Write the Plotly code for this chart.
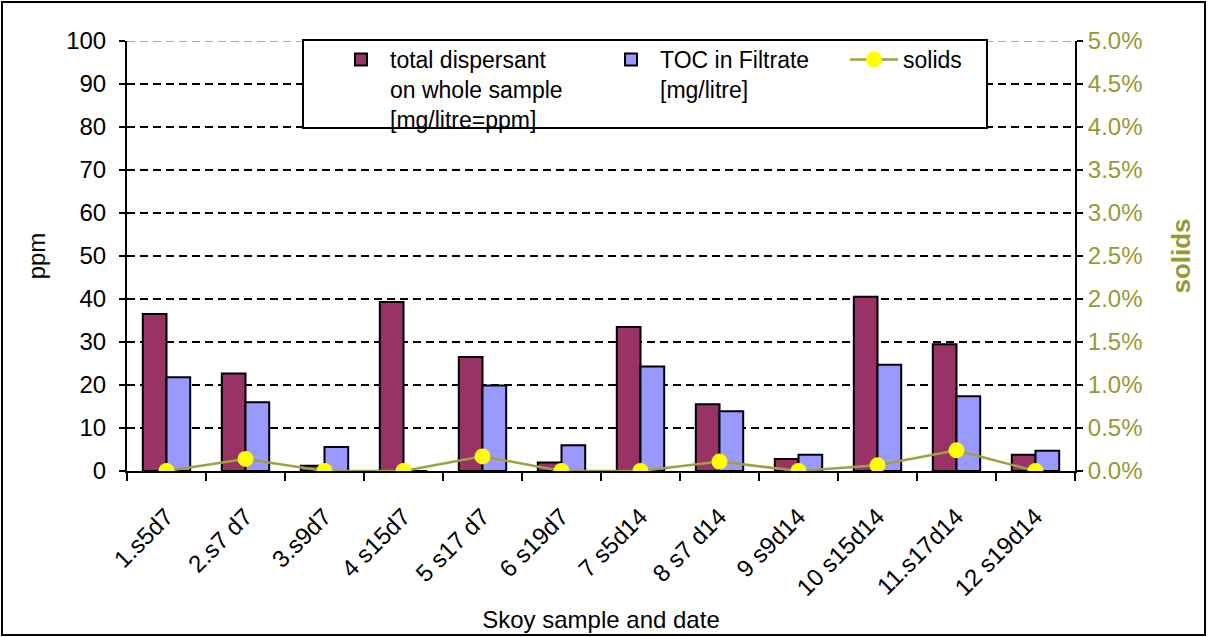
import plotly.graph_objects as go

categories = ["1.s5d7", "2.s7 d7", "3.s9d7", "4 s15d7", "5 s17 d7", "6 s19d7",
              "7 s5d14", "8 s7 d14", "9 s9d14", "10 s15d14", "11.s17d14", "12 s19d14"]
total_dispersant = [36.5, 22.7, 1.2, 39.3, 26.5, 2.0, 33.5, 15.5, 2.8, 40.5, 29.5, 3.8]
toc_filtrate = [21.8, 16.0, 5.6, 0, 19.9, 6.0, 24.3, 13.9, 3.8, 24.7, 17.4, 4.7]
solids = [0.0, 0.0014, 0.0, 0.0, 0.0017, 0.0, 0.0, 0.0011, 0.0, 0.00066, 0.0024, 0.0]

FONT = "Liberation Sans, Arial, sans-serif"
OLIVE = "#999933"

fig = go.Figure()
fig.add_trace(go.Bar(
    x=categories, y=total_dispersant,
    name="total dispersant<br>on whole sample<br>[mg/litre=ppm]",
    marker=dict(color="#993366", line=dict(color="black", width=2)),
    legend="legend",
))
fig.add_trace(go.Bar(
    x=categories, y=toc_filtrate,
    name="TOC in Filtrate<br>[mg/litre]",
    marker=dict(color="#9999FF", line=dict(color="black", width=2)),
    legend="legend2",
))
fig.add_trace(go.Scatter(
    x=categories, y=solids, yaxis="y2", name="solids",
    mode="lines+markers",
    line=dict(color="#A0A040", width=2.5),
    marker=dict(color="#FFFF00", size=16),
    legend="legend3",
))

W, H = 1208, 637
L, R, T, B = 127, 133, 41, 166
pw, ph = W - L - R, H - T - B


def px_x(x):
    return (x - L) / pw


def px_y(y):
    return (H - B - y) / ph


def legend_at(xpx):
    return dict(
        orientation="h", x=px_x(xpx), y=px_y(38), xanchor="left", yanchor="top",
        bgcolor="rgba(0,0,0,0)", borderwidth=0,
        font=dict(size=23), valign="top", itemwidth=48,
    )


dash = "8px,5px"
fig.update_layout(
    width=W, height=H,
    paper_bgcolor="white", plot_bgcolor="white",
    font=dict(family=FONT, size=24, color="black"),
    margin=dict(l=L, r=R, t=T, b=B),
    barmode="group", bargap=0.40, bargroupgap=0,
    showlegend=True,
    legend=legend_at(332),
    legend2=legend_at(602),
    legend3=legend_at(845),
    xaxis=dict(
        type="category", range=[-0.5, 11.5], tickangle=-45, tickson="boundaries",
        showline=True, linecolor="black", linewidth=2,
        ticks="outside", ticklen=8, tickwidth=2, tickcolor="black",
        tickfont=dict(size=24), ticklabelstandoff=20,
        title=dict(text="Skoy sample and date", font=dict(size=24), standoff=11),
        showgrid=False, automargin=False,
    ),
    yaxis=dict(
        range=[0, 100], dtick=10,
        showline=True, linecolor="black", linewidth=2,
        ticks="outside", ticklen=6, tickwidth=2, tickcolor="black",
        ticklabelstandoff=8,
        showgrid=True, gridcolor="black", griddash=dash, gridwidth=1.5,
        zeroline=False,
        title=dict(text="ppm", font=dict(size=24), standoff=14),
    ),
    yaxis2=dict(
        overlaying="y", side="right", range=[0, 0.05], dtick=0.005,
        tickformat=".1%", showgrid=False, zeroline=False,
        showline=True, linecolor="black", linewidth=2,
        ticks="outside", ticklen=6, tickwidth=2, tickcolor="black",
        tickfont=dict(color=OLIVE, size=24),
        title=dict(text="<b>solids</b>", font=dict(color=OLIVE, size=26), standoff=30),
    ),
    shapes=[
        dict(type="line", xref="paper", yref="y", x0=0, x1=1, y0=100, y1=100,
             line=dict(color="#AAAAAA", width=2, dash=dash), layer="above"),
        dict(type="rect", xref="paper", yref="paper",
             x0=px_x(303), x1=px_x(987), y0=px_y(128), y1=px_y(40),
             line=dict(color="black", width=2), fillcolor="white", layer="above"),
        dict(type="rect", xref="paper", yref="paper",
             x0=px_x(2), x1=px_x(1205), y0=px_y(635), y1=px_y(2),
             line=dict(color="black", width=2), fillcolor="rgba(0,0,0,0)"),
    ],
)

fig.write_html("out.html")
